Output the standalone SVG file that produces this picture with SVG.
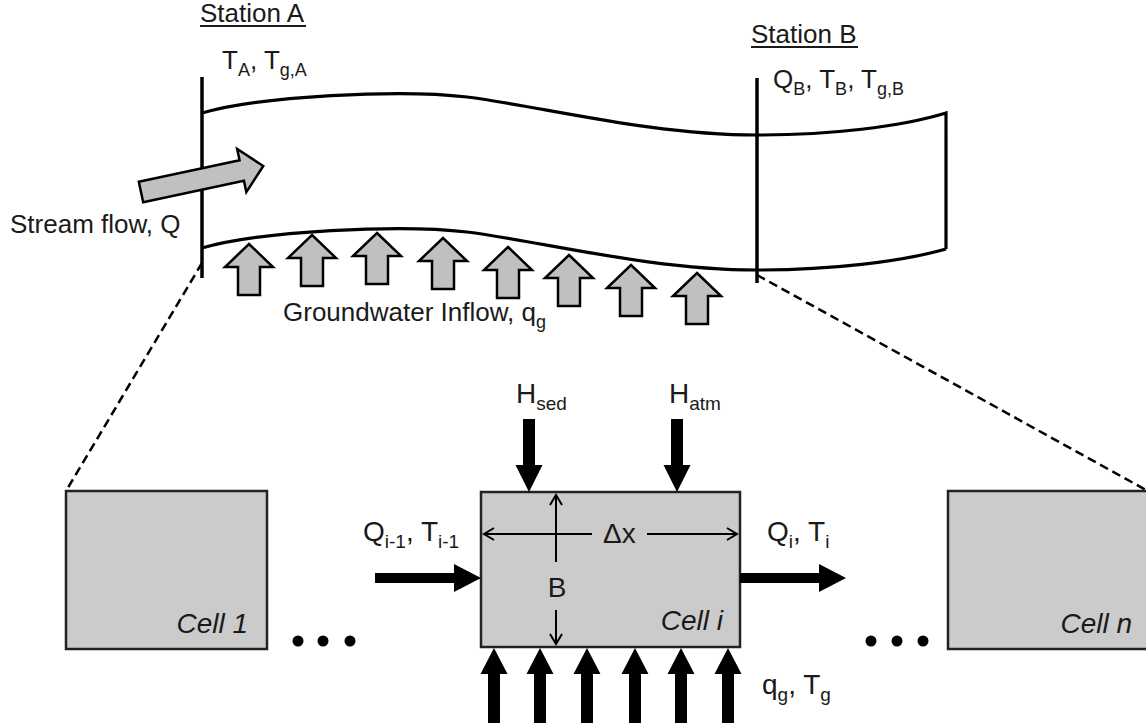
<svg xmlns="http://www.w3.org/2000/svg" width="1146" height="723" viewBox="0 0 1146 723">
<style>
text{font-family:"Liberation Sans",Arial,Helvetica,sans-serif;fill:#1a1a1a}
.t26{font-size:26px}
.t28{font-size:28px}
.sub{font-size:18px}
.sub19{font-size:19px}
.it{font-style:italic;font-size:28px}
.stream{fill:none;stroke:#000;stroke-width:3.2}
.station{stroke:#000;stroke-width:3.5}
.dash{stroke:#000;stroke-width:2.5;stroke-dasharray:9 5;fill:none}
.cell{fill:#cbcbcb;stroke:#222;stroke-width:2.5}
.gw{fill:#c0c0c0;stroke:#000;stroke-width:2.5;stroke-linejoin:miter}
.blk{fill:#000}
.dim{stroke:#000;stroke-width:2;fill:none}
.ul{stroke:#1a1a1a;stroke-width:2}
</style>
<defs>
<polygon id="gwArrow" class="gw" points="0,0 24,23 11,23 11,51 -11,51 -11,23 -24,23"/>
<polygon id="vArrow" class="blk" points="0,0 13.5,27 6,27 6,73 -6,73 -6,27 -13.5,27"/>
<polygon id="bArrow" class="blk" points="0,0 13.5,26 6,26 6,80 -6,80 -6,26 -13.5,26"/>
<polygon id="hArrow" class="blk" points="0,0 14,27 5,27 5,106 -5,106 -5,27 -14,27"/>
</defs>

<g id="stream">
<path class="stream" d="M202,113 C260,96 400,89 467,97 C540,106 650,135 757,135 C830,135 900,127 946,113 L946,249"/>
<path class="stream" d="M202,248 C260,231 400,224 467,232 C540,241 650,270 757,270 C830,270 900,262 946,249"/>
</g>

<g id="stationA">
<line class="station" x1="202" y1="77" x2="202" y2="278"/>
<text class="t26" x="200" y="22">Station A</text>
<line class="ul" x1="200" y1="26" x2="306" y2="26"/>
<text class="t26" x="222" y="69">T<tspan class="sub" dy="7">A</tspan><tspan dy="-7">, T</tspan><tspan class="sub" dy="7">g,A</tspan></text>
</g>

<g id="stationB">
<line class="station" x1="757" y1="78" x2="757" y2="283"/>
<text class="t26" x="751" y="43">Station B</text>
<line class="ul" x1="751" y1="47" x2="858" y2="47"/>
<text class="t26" x="773" y="88">Q<tspan class="sub" dy="7">B</tspan><tspan dy="-7">, T</tspan><tspan class="sub" dy="7">B</tspan><tspan dy="-7">, T</tspan><tspan class="sub" dy="7">g,B</tspan></text>
</g>

<g id="streamflow">
<polygon class="gw" transform="translate(141,192) rotate(-12)" points="0,-10.5 103,-10.5 103,-22 125,0 103,22 103,10.5 0,10.5"/>
<text class="t26" x="10" y="233">Stream flow, Q</text>
</g>

<g id="groundwater">
<use href="#gwArrow" x="249" y="244"/>
<use href="#gwArrow" x="312" y="235"/>
<use href="#gwArrow" x="377" y="233"/>
<use href="#gwArrow" x="443" y="238"/>
<use href="#gwArrow" x="508" y="247"/>
<use href="#gwArrow" x="569" y="255"/>
<use href="#gwArrow" x="631" y="265"/>
<use href="#gwArrow" x="697" y="273"/>
<text class="t26" x="283" y="321">Groundwater Inflow, q<tspan class="sub" dy="7">g</tspan></text>
</g>

<g id="connectors">
<line class="dash" x1="202" y1="263" x2="66" y2="491"/>
<line class="dash" x1="757" y1="275" x2="1146" y2="490"/>
</g>

<g id="cell1">
<rect class="cell" x="66" y="491" width="201" height="158"/>
<text class="it" x="248" y="633" text-anchor="end">Cell 1</text>
</g>

<g id="dotsLeft">
<circle cx="298" cy="641" r="5.5" fill="#000"/>
<circle cx="323" cy="641" r="5.5" fill="#000"/>
<circle cx="350" cy="641" r="5.5" fill="#000"/>
</g>

<g id="celli">
<rect class="cell" x="481" y="492" width="259" height="155"/>
<line class="dim" x1="484" y1="534" x2="592" y2="534"/>
<line class="dim" x1="647" y1="534" x2="737" y2="534"/>
<polyline class="dim" points="494,528 484,534 494,540"/>
<polyline class="dim" points="727,528 737,534 727,540"/>
<line class="dim" x1="556" y1="495" x2="556" y2="562"/>
<line class="dim" x1="556" y1="610" x2="556" y2="644"/>
<polyline class="dim" points="550,505 556,495 562,505"/>
<polyline class="dim" points="550,634 556,644 562,634"/>
<text class="t28" x="603" y="543">Δx</text>
<text class="t28" x="557" y="597" text-anchor="middle">B</text>
<text class="it" x="723" y="630" text-anchor="end">Cell i</text>
</g>

<g id="fluxes">
<use href="#vArrow" transform="translate(529,492) rotate(180)"/>
<use href="#vArrow" transform="translate(677,492) rotate(180)"/>
<text class="t28" x="516" y="403">H<tspan class="sub19" dy="7">sed</tspan></text>
<text class="t28" x="669" y="403">H<tspan class="sub19" dy="7">atm</tspan></text>
<use href="#hArrow" transform="translate(481,578) rotate(90)"/>
<use href="#hArrow" transform="translate(846,578) rotate(90)"/>
<text class="t28" x="363" y="541">Q<tspan class="sub19" dy="7">i-1</tspan><tspan dy="-7">, T</tspan><tspan class="sub19" dy="7">i-1</tspan></text>
<text class="t28" x="767" y="541">Q<tspan class="sub19" dy="7">i</tspan><tspan dy="-7">, T</tspan><tspan class="sub19" dy="7">i</tspan></text>
<use href="#bArrow" x="494" y="648"/>
<use href="#bArrow" x="540" y="648"/>
<use href="#bArrow" x="587" y="648"/>
<use href="#bArrow" x="635" y="648"/>
<use href="#bArrow" x="681" y="648"/>
<use href="#bArrow" x="728" y="648"/>
<text class="t28" x="762" y="694">q<tspan class="sub19" dy="7">g</tspan><tspan dy="-7">, T</tspan><tspan class="sub19" dy="7">g</tspan></text>
</g>

<g id="dotsRight">
<circle cx="871" cy="641" r="5.5" fill="#000"/>
<circle cx="897" cy="641" r="5.5" fill="#000"/>
<circle cx="923" cy="641" r="5.5" fill="#000"/>
</g>

<g id="celln">
<rect class="cell" x="948" y="491" width="210" height="158"/>
<text class="it" x="1132" y="633" text-anchor="end">Cell n</text>
</g>
</svg>
